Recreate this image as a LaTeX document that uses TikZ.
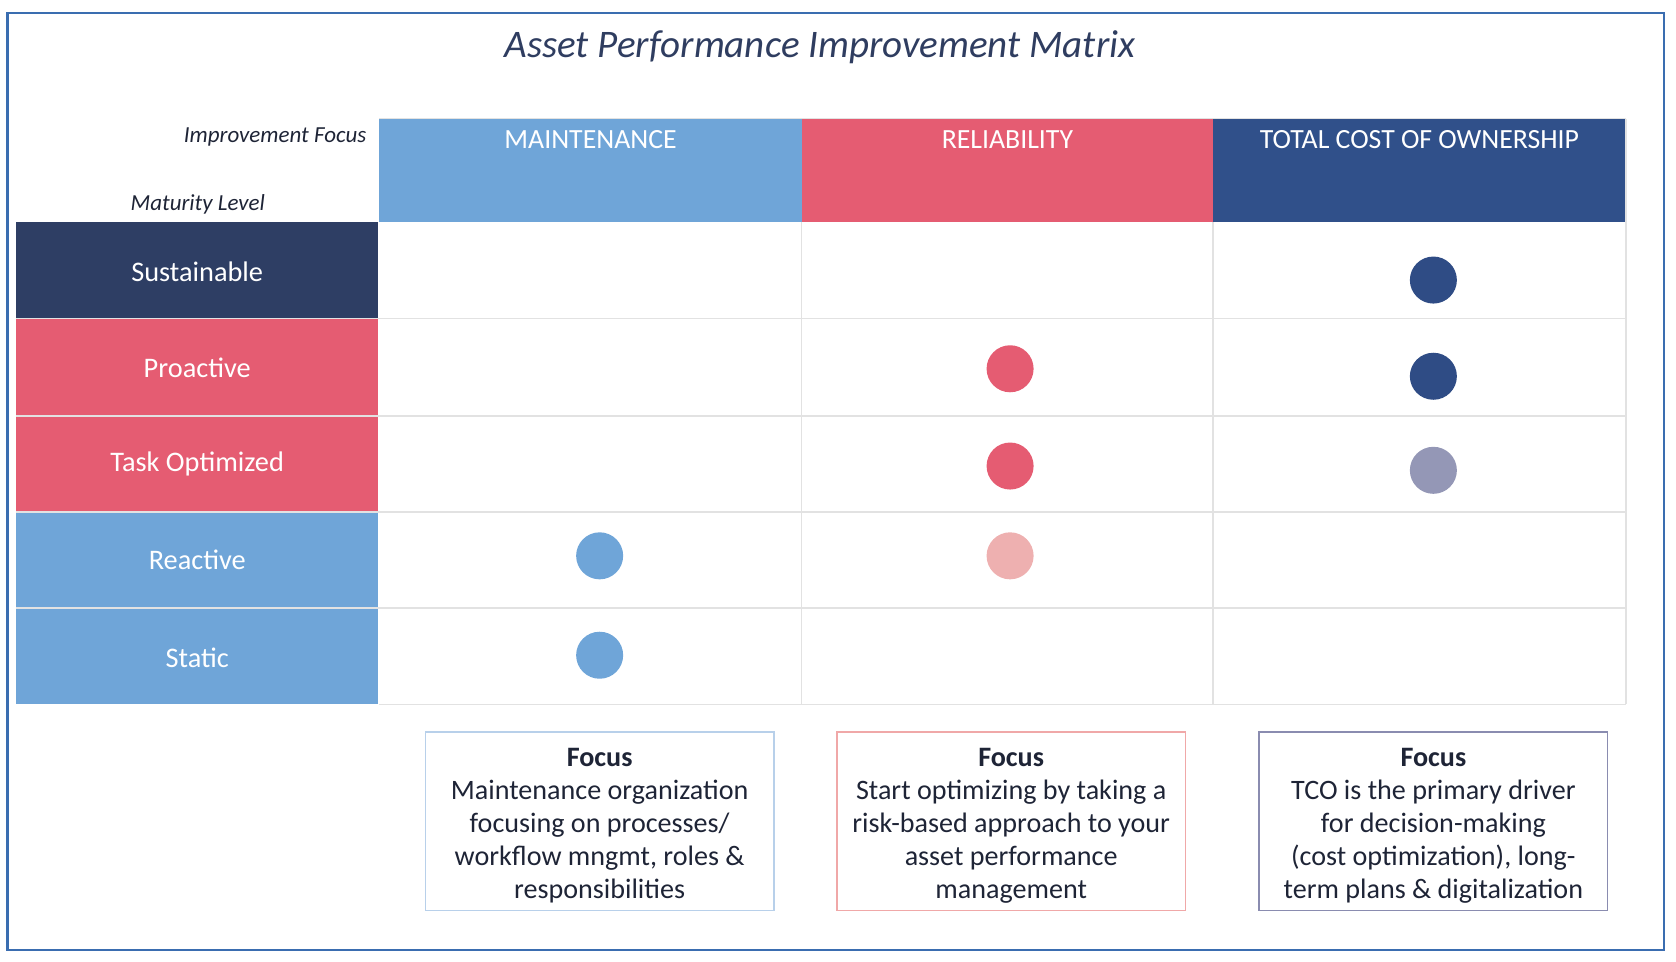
\documentclass[tikz,border=0pt]{standalone}
\usepackage{fontspec}
\setmainfont{Carlito}
\definecolor{mblue}{HTML}{6FA5D8}
\definecolor{rred}{HTML}{E55C72}
\definecolor{tnavy}{HTML}{30508A}
\definecolor{sust}{HTML}{2E3E64}
\definecolor{dnavy}{HTML}{2F4C85}
\definecolor{lpink}{HTML}{EEB0B0}
\definecolor{gpurp}{HTML}{9497B6}
\definecolor{bblue}{HTML}{B8D0EA}
\definecolor{bpink}{HTML}{F0A8A8}
\definecolor{bpurp}{HTML}{8A8CB0}
\definecolor{frame}{HTML}{3A6DB0}
\definecolor{grid}{HTML}{E2E2E2}
\definecolor{txt}{HTML}{1E2436}
\definecolor{ttl}{HTML}{2F3D60}
\begin{document}
\begin{tikzpicture}[x=1pt,y=-1pt,
  hdr/.style={font=\fontsize{26}{30}\selectfont, text=white, inner sep=0pt},
  lbl/.style={font=\fontsize{26.5}{30}\selectfont, text=white, inner sep=0pt},
  axis/.style={font=\fontsize{21.5}{24}\selectfont\itshape, text=txt, inner sep=0pt},
  dot/.style={circle, minimum size=44pt, inner sep=0pt},
  gridline/.style={draw=grid, line width=1.5pt},
  focusbox/.style={draw, line width=1.3pt, minimum width=326pt, minimum height=167pt, inner sep=0pt},
  focustext/.style={align=center, font=\fontsize{26.3}{31}\selectfont, text=txt, inner sep=0pt}
]
\useasboundingbox (0,0) rectangle (1568,900);
\draw[frame, line width=2pt] (7,12) rectangle (1557,889);

\node[font=\fontsize{36.5}{40}\selectfont\itshape, text=ttl, inner sep=0pt] (title) at (767,44) {Asset Performance Improvement Matrix};

% header cells
\fill[mblue] (355,111) rectangle (750,208);
\fill[rred] (750,111) rectangle (1135,208);
\fill[tnavy] (1135,111) rectangle (1521,208);
\node[hdr] (hm) at (552.5,131) {MAINTENANCE};
\node[hdr] (hr) at (942.5,131) {RELIABILITY};
\node[hdr] (ht) at (1328,131) {TOTAL COST OF OWNERSHIP};

\node[axis, anchor=east] (impf) at (343,128) {Improvement Focus};
\node[axis] (matl) at (185,191) {Maturity Level};

% row label cells
\fill[sust] (15,208) rectangle (354,298);
\fill[rred] (15,298) rectangle (354,389);
\fill[rred] (15,389) rectangle (354,479);
\fill[mblue] (15,479) rectangle (354,569);
\fill[mblue] (15,569) rectangle (354,659);
\node[lbl] (rs) at (184.5,254) {Sustainable};
\node[lbl] (rp) at (184.5,344) {Proactive};
\node[lbl] (rt) at (184.5,434) {Task Optimized};
\node[lbl] (rr) at (184.5,524) {Reactive};
\node[lbl] (rst) at (184.5,615) {Static};

% grid
\foreach \yy in {298,389,479,569} \draw[gridline] (15,\yy) -- (1521,\yy);
\draw[gridline] (355,659) -- (1521,659);
\draw[gridline] (355,111) -- (1521,111);
\foreach \xx in {750,1135} \draw[gridline] (\xx,208) -- (\xx,659);
\draw[gridline] (1521,111) -- (1521,659);

% dots
\node[dot, fill=mblue] (d1) at (561,520) {};
\node[dot, fill=mblue] (d2) at (561,613) {};
\node[dot, fill=rred] (d3) at (945,345) {};
\node[dot, fill=rred] (d4) at (945,436) {};
\node[dot, fill=lpink] (d5) at (945,520) {};
\node[dot, fill=dnavy] (d6) at (1341,262) {};
\node[dot, fill=dnavy] (d7) at (1341,352) {};
\node[dot, fill=gpurp] (d8) at (1341,440) {};

% focus boxes
\node[focusbox, draw=bblue] (f1) at (561,768.5) {};
\node[focusbox, draw=bpink] (f2) at (946,768.5) {};
\node[focusbox, draw=bpurp] (f3) at (1341,768.5) {};
\node[focustext] (f1t) at (561,772.5) {\textbf{Focus}\\Maintenance organization\\focusing on processes/\\workflow mngmt, roles \&\\responsibilities};
\node[focustext] (f2t) at (946,772.5) {\textbf{Focus}\\Start optimizing by taking a\\risk-based approach to your\\asset performance\\management};
\node[focustext] (f3t) at (1341,772.5) {\textbf{Focus}\\TCO is the primary driver\\for decision-making\\(cost optimization), long-\\term plans \& digitalization};
\end{tikzpicture}
\end{document}
